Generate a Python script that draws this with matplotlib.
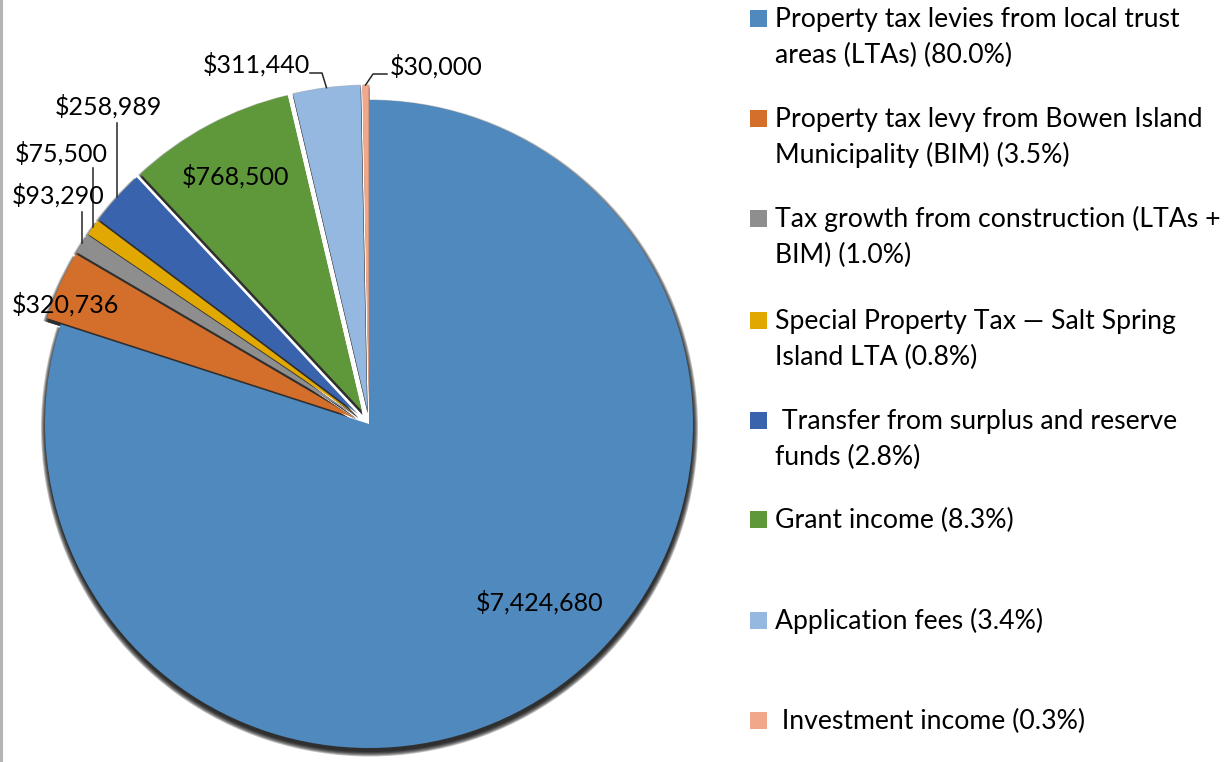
import numpy as np
import matplotlib
matplotlib.use('Agg')
import matplotlib.pyplot as plt
from matplotlib.patches import Wedge, Rectangle
from matplotlib.lines import Line2D

plt.rcParams['font.family'] = ['Lato', 'DejaVu Sans']

# revenue sources
labels = [
    'Property tax levies from local trust\nareas (LTAs) (80.0%)',
    'Property tax levy from Bowen Island\nMunicipality (BIM) (3.5%)',
    'Tax growth from construction (LTAs +\nBIM) (1.0%)',
    'Special Property Tax \u2014 Salt Spring\nIsland LTA (0.8%)',
    ' Transfer from surplus and reserve\nfunds (2.8%)',
    'Grant income (8.3%)',
    'Application fees (3.4%)',
    ' Investment income (0.3%)',
]
values = [7424680, 320736, 93290, 75500, 258989, 768500, 311440, 30000]
colors = ['#4F89BD', '#D46E2B', '#8E8E8E', '#E0A800',
          '#3A63AD', '#5F983B', '#95B8E0', '#F0A78A']

W, H = 1230, 762
fig = plt.figure(figsize=(W / 100, H / 100), dpi=100)
ax = fig.add_axes([0, 0, 1, 1])

cx, cy, R = 369, H - 424, 324
# pie explode works in data units here (px)
explode = [0] + [15] * 7

wedges, _ = ax.pie(values, colors=colors, startangle=90, counterclock=False,
                   center=(cx, cy), radius=R, explode=explode, frame=True,
                   wedgeprops=dict(linewidth=0, zorder=3))
ax.set_xlim(0, W)
ax.set_ylim(0, H)
ax.set_aspect('equal')
ax.axis('off')

# soft drop shadow under every slice
for w in wedges:
    wx, wy = w.center
    for k in range(6):
        ax.add_patch(Wedge((wx + 0.5, wy - 4), w.r + k * 0.9, w.theta1, w.theta2,
                           facecolor='black', edgecolor='none',
                           alpha=0.24, zorder=1))


def arc_mid(w):
    a = np.deg2rad((w.theta1 + w.theta2) / 2)
    return w.center[0] + w.r * np.cos(a), w.center[1] + w.r * np.sin(a)


fs_lab = 18
fs_leg = 19.2
# (x, baseline y in px from top, ha)
label_pos = [(540, 611, 'center'), (12, 313, 'left'), (12, 204, 'left'),
             (15, 162, 'left'), (55, 115, 'left'), (182, 185, 'left'),
             (203, 73, 'left'), (390, 75, 'left')]
for v, (x, y, ha) in zip(values, label_pos):
    ax.text(x, H - y, f'${v:,.0f}', fontsize=fs_lab, ha=ha, va='baseline',
            color='black', zorder=5)

# leader lines
leaders = {2: [(None, 212)], 3: [(None, 168)], 4: [(None, 123)],
           6: [(322, 73), (310, 73)], 7: [(373, 74), (387, 74)]}
for i, pts in leaders.items():
    mx, my = arc_mid(wedges[i])
    xs, ys = [mx], [my]
    for px, py in pts:
        xs.append(mx if px is None else px)
        ys.append(H - py)
    ax.add_line(Line2D(xs, ys, color='#262626', lw=1.1, zorder=4))

# legend
mark_y = [18, 118, 218, 320, 420, 519, 620, 720]
for lab, c, y in zip(labels, colors, mark_y):
    ax.add_patch(Rectangle((750, H - y - 8.5), 17, 17, facecolor=c,
                           edgecolor='none', zorder=5))
    for j, line in enumerate(lab.split('\n')):
        ax.text(775, H - (y + 9 + 36 * j), line, fontsize=fs_leg, ha='left',
                va='baseline', color='black', zorder=5)

# left border
ax.add_line(Line2D([1, 1], [0, H], color='#B4B4B4', lw=2.2, zorder=6))

fig.savefig('out.png', dpi=100)
